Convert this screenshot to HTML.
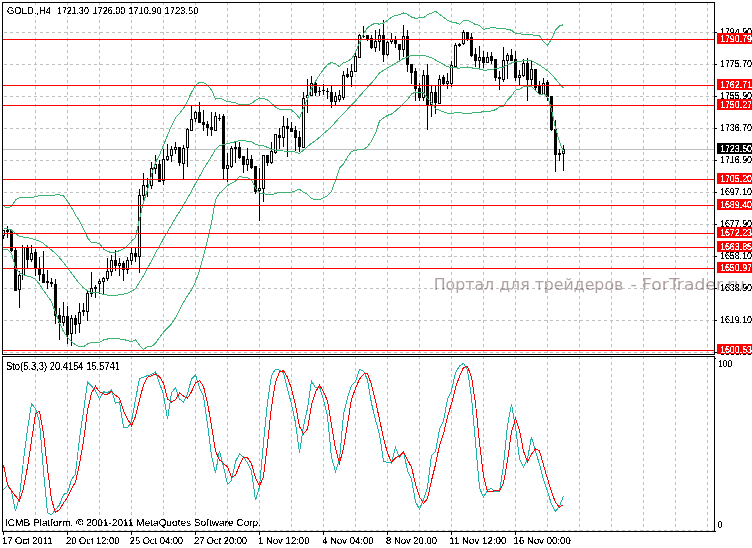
<!DOCTYPE html>
<html><head><meta charset="utf-8"><title>GOLD.,H4</title>
<style>html,body{margin:0;padding:0;background:#fff;width:752px;height:548px;overflow:hidden}svg{display:block}</style>
</head><body>
<svg width="752" height="548" viewBox="0 0 752 548" shape-rendering="crispEdges" text-rendering="optimizeSpeed"><defs><filter id="th" filterUnits="userSpaceOnUse" x="0" y="0" width="752" height="548"><feComponentTransfer><feFuncA type="discrete" tableValues="0 0 1 1 1"/></feComponentTransfer></filter><filter id="th2" filterUnits="userSpaceOnUse" x="0" y="0" width="752" height="548"><feComponentTransfer><feFuncA type="discrete" tableValues="0 1 1"/></feComponentTransfer></filter></defs>
<line x1="35.5" y1="2" x2="35.5" y2="354" stroke="#c0c0c0" stroke-dasharray="3 3"/>
<line x1="35.5" y1="356" x2="35.5" y2="531" stroke="#c0c0c0" stroke-dasharray="3 3"/>
<line x1="67.5" y1="2" x2="67.5" y2="354" stroke="#c0c0c0" stroke-dasharray="3 3"/>
<line x1="67.5" y1="356" x2="67.5" y2="531" stroke="#c0c0c0" stroke-dasharray="3 3"/>
<line x1="99.5" y1="2" x2="99.5" y2="354" stroke="#c0c0c0" stroke-dasharray="3 3"/>
<line x1="99.5" y1="356" x2="99.5" y2="531" stroke="#c0c0c0" stroke-dasharray="3 3"/>
<line x1="131.5" y1="2" x2="131.5" y2="354" stroke="#c0c0c0" stroke-dasharray="3 3"/>
<line x1="131.5" y1="356" x2="131.5" y2="531" stroke="#c0c0c0" stroke-dasharray="3 3"/>
<line x1="163.5" y1="2" x2="163.5" y2="354" stroke="#c0c0c0" stroke-dasharray="3 3"/>
<line x1="163.5" y1="356" x2="163.5" y2="531" stroke="#c0c0c0" stroke-dasharray="3 3"/>
<line x1="195.5" y1="2" x2="195.5" y2="354" stroke="#c0c0c0" stroke-dasharray="3 3"/>
<line x1="195.5" y1="356" x2="195.5" y2="531" stroke="#c0c0c0" stroke-dasharray="3 3"/>
<line x1="227.5" y1="2" x2="227.5" y2="354" stroke="#c0c0c0" stroke-dasharray="3 3"/>
<line x1="227.5" y1="356" x2="227.5" y2="531" stroke="#c0c0c0" stroke-dasharray="3 3"/>
<line x1="259.5" y1="2" x2="259.5" y2="354" stroke="#c0c0c0" stroke-dasharray="3 3"/>
<line x1="259.5" y1="356" x2="259.5" y2="531" stroke="#c0c0c0" stroke-dasharray="3 3"/>
<line x1="291.5" y1="2" x2="291.5" y2="354" stroke="#c0c0c0" stroke-dasharray="3 3"/>
<line x1="291.5" y1="356" x2="291.5" y2="531" stroke="#c0c0c0" stroke-dasharray="3 3"/>
<line x1="323.5" y1="2" x2="323.5" y2="354" stroke="#c0c0c0" stroke-dasharray="3 3"/>
<line x1="323.5" y1="356" x2="323.5" y2="531" stroke="#c0c0c0" stroke-dasharray="3 3"/>
<line x1="355.5" y1="2" x2="355.5" y2="354" stroke="#c0c0c0" stroke-dasharray="3 3"/>
<line x1="355.5" y1="356" x2="355.5" y2="531" stroke="#c0c0c0" stroke-dasharray="3 3"/>
<line x1="387.5" y1="2" x2="387.5" y2="354" stroke="#c0c0c0" stroke-dasharray="3 3"/>
<line x1="387.5" y1="356" x2="387.5" y2="531" stroke="#c0c0c0" stroke-dasharray="3 3"/>
<line x1="419.5" y1="2" x2="419.5" y2="354" stroke="#c0c0c0" stroke-dasharray="3 3"/>
<line x1="419.5" y1="356" x2="419.5" y2="531" stroke="#c0c0c0" stroke-dasharray="3 3"/>
<line x1="451.5" y1="2" x2="451.5" y2="354" stroke="#c0c0c0" stroke-dasharray="3 3"/>
<line x1="451.5" y1="356" x2="451.5" y2="531" stroke="#c0c0c0" stroke-dasharray="3 3"/>
<line x1="483.5" y1="2" x2="483.5" y2="354" stroke="#c0c0c0" stroke-dasharray="3 3"/>
<line x1="483.5" y1="356" x2="483.5" y2="531" stroke="#c0c0c0" stroke-dasharray="3 3"/>
<line x1="515.5" y1="2" x2="515.5" y2="354" stroke="#c0c0c0" stroke-dasharray="3 3"/>
<line x1="515.5" y1="356" x2="515.5" y2="531" stroke="#c0c0c0" stroke-dasharray="3 3"/>
<line x1="547.5" y1="2" x2="547.5" y2="354" stroke="#c0c0c0" stroke-dasharray="3 3"/>
<line x1="547.5" y1="356" x2="547.5" y2="531" stroke="#c0c0c0" stroke-dasharray="3 3"/>
<line x1="579.5" y1="2" x2="579.5" y2="354" stroke="#c0c0c0" stroke-dasharray="3 3"/>
<line x1="579.5" y1="356" x2="579.5" y2="531" stroke="#c0c0c0" stroke-dasharray="3 3"/>
<line x1="611.5" y1="2" x2="611.5" y2="354" stroke="#c0c0c0" stroke-dasharray="3 3"/>
<line x1="611.5" y1="356" x2="611.5" y2="531" stroke="#c0c0c0" stroke-dasharray="3 3"/>
<line x1="643.5" y1="2" x2="643.5" y2="354" stroke="#c0c0c0" stroke-dasharray="3 3"/>
<line x1="643.5" y1="356" x2="643.5" y2="531" stroke="#c0c0c0" stroke-dasharray="3 3"/>
<line x1="675.5" y1="2" x2="675.5" y2="354" stroke="#c0c0c0" stroke-dasharray="3 3"/>
<line x1="675.5" y1="356" x2="675.5" y2="531" stroke="#c0c0c0" stroke-dasharray="3 3"/>
<line x1="707.5" y1="2" x2="707.5" y2="354" stroke="#c0c0c0" stroke-dasharray="3 3"/>
<line x1="707.5" y1="356" x2="707.5" y2="531" stroke="#c0c0c0" stroke-dasharray="3 3"/>
<line x1="4" y1="32.5" x2="714" y2="32.5" stroke="#c0c0c0" stroke-dasharray="3 3"/>
<line x1="4" y1="64.5" x2="714" y2="64.5" stroke="#c0c0c0" stroke-dasharray="3 3"/>
<line x1="4" y1="96.5" x2="714" y2="96.5" stroke="#c0c0c0" stroke-dasharray="3 3"/>
<line x1="4" y1="128.5" x2="714" y2="128.5" stroke="#c0c0c0" stroke-dasharray="3 3"/>
<line x1="4" y1="160.5" x2="714" y2="160.5" stroke="#c0c0c0" stroke-dasharray="3 3"/>
<line x1="4" y1="192.5" x2="714" y2="192.5" stroke="#c0c0c0" stroke-dasharray="3 3"/>
<line x1="4" y1="224.5" x2="714" y2="224.5" stroke="#c0c0c0" stroke-dasharray="3 3"/>
<line x1="4" y1="256.5" x2="714" y2="256.5" stroke="#c0c0c0" stroke-dasharray="3 3"/>
<line x1="4" y1="288.5" x2="714" y2="288.5" stroke="#c0c0c0" stroke-dasharray="3 3"/>
<line x1="4" y1="320.5" x2="714" y2="320.5" stroke="#c0c0c0" stroke-dasharray="3 3"/>
<line x1="4" y1="352.5" x2="714" y2="352.5" stroke="#c0c0c0" stroke-dasharray="3 3"/>
<line x1="4" y1="530.5" x2="714" y2="530.5" stroke="#c0c0c0" stroke-dasharray="3 3"/>
<rect x="3" y="149" width="711" height="1" fill="#c0c0c0"/>
<rect x="3" y="230" width="1" height="9" fill="#000"/>
<rect x="2.5" y="230.5" width="2" height="5" fill="#fff" stroke="#000"/>
<rect x="7" y="226" width="1" height="12" fill="#000"/>
<rect x="6" y="230" width="3" height="2" fill="#000"/>
<rect x="11" y="229" width="1" height="23" fill="#000"/>
<rect x="10" y="230" width="3" height="21" fill="#000"/>
<rect x="15" y="248" width="1" height="43" fill="#000"/>
<rect x="14" y="250" width="3" height="41" fill="#000"/>
<rect x="19" y="271" width="1" height="37" fill="#000"/>
<rect x="18.5" y="275.5" width="2" height="14" fill="#fff" stroke="#000"/>
<rect x="23" y="247" width="1" height="28" fill="#000"/>
<rect x="22.5" y="247.5" width="2" height="27" fill="#fff" stroke="#000"/>
<rect x="27" y="245" width="1" height="23" fill="#000"/>
<rect x="26" y="248" width="3" height="12" fill="#000"/>
<rect x="31" y="245" width="1" height="17" fill="#000"/>
<rect x="30.5" y="253.5" width="2" height="6" fill="#fff" stroke="#000"/>
<rect x="35" y="249" width="1" height="27" fill="#000"/>
<rect x="34" y="252" width="3" height="16" fill="#000"/>
<rect x="39" y="257" width="1" height="24" fill="#000"/>
<rect x="38" y="268" width="3" height="7" fill="#000"/>
<rect x="43" y="251" width="1" height="32" fill="#000"/>
<rect x="42" y="274" width="3" height="9" fill="#000"/>
<rect x="47" y="270" width="1" height="19" fill="#000"/>
<rect x="46" y="281" width="3" height="2" fill="#000"/>
<rect x="51" y="278" width="1" height="9" fill="#000"/>
<rect x="50" y="282" width="3" height="2" fill="#000"/>
<rect x="55" y="279" width="1" height="45" fill="#000"/>
<rect x="54" y="284" width="3" height="32" fill="#000"/>
<rect x="59" y="308" width="1" height="32" fill="#000"/>
<rect x="58" y="315" width="3" height="8" fill="#000"/>
<rect x="63" y="302" width="1" height="24" fill="#000"/>
<rect x="62.5" y="316.5" width="2" height="6" fill="#fff" stroke="#000"/>
<rect x="67" y="306" width="1" height="38" fill="#000"/>
<rect x="66" y="316" width="3" height="19" fill="#000"/>
<rect x="71" y="315" width="1" height="31" fill="#000"/>
<rect x="70.5" y="318.5" width="2" height="15" fill="#fff" stroke="#000"/>
<rect x="75" y="315" width="1" height="19" fill="#000"/>
<rect x="74" y="318" width="3" height="7" fill="#000"/>
<rect x="79" y="303" width="1" height="30" fill="#000"/>
<rect x="78.5" y="312.5" width="2" height="11" fill="#fff" stroke="#000"/>
<rect x="83" y="303" width="1" height="13" fill="#000"/>
<rect x="82" y="310" width="3" height="2" fill="#000"/>
<rect x="87" y="291" width="1" height="30" fill="#000"/>
<rect x="86.5" y="293.5" width="2" height="18" fill="#fff" stroke="#000"/>
<rect x="91" y="272" width="1" height="25" fill="#000"/>
<rect x="90.5" y="288.5" width="2" height="5" fill="#fff" stroke="#000"/>
<rect x="95" y="285" width="1" height="13" fill="#000"/>
<rect x="94" y="287" width="3" height="2" fill="#000"/>
<rect x="99" y="279" width="1" height="15" fill="#000"/>
<rect x="98.5" y="281.5" width="2" height="2" fill="#fff" stroke="#000"/>
<rect x="103" y="277" width="1" height="17" fill="#000"/>
<rect x="102.5" y="278.5" width="2" height="3" fill="#fff" stroke="#000"/>
<rect x="107" y="258" width="1" height="23" fill="#000"/>
<rect x="106.5" y="271.5" width="2" height="7" fill="#fff" stroke="#000"/>
<rect x="111" y="255" width="1" height="21" fill="#000"/>
<rect x="110.5" y="260.5" width="2" height="11" fill="#fff" stroke="#000"/>
<rect x="115" y="250" width="1" height="21" fill="#000"/>
<rect x="114" y="260" width="3" height="6" fill="#000"/>
<rect x="119" y="258" width="1" height="18" fill="#000"/>
<rect x="118.5" y="263.5" width="2" height="2" fill="#fff" stroke="#000"/>
<rect x="123" y="261" width="1" height="20" fill="#000"/>
<rect x="122" y="263" width="3" height="7" fill="#000"/>
<rect x="127" y="257" width="1" height="17" fill="#000"/>
<rect x="126.5" y="260.5" width="2" height="9" fill="#fff" stroke="#000"/>
<rect x="131" y="248" width="1" height="17" fill="#000"/>
<rect x="130.5" y="253.5" width="2" height="7" fill="#fff" stroke="#000"/>
<rect x="135" y="248" width="1" height="14" fill="#000"/>
<rect x="134" y="253" width="3" height="4" fill="#000"/>
<rect x="139" y="189" width="1" height="84" fill="#000"/>
<rect x="138.5" y="195.5" width="2" height="61" fill="#fff" stroke="#000"/>
<rect x="143" y="173" width="1" height="27" fill="#000"/>
<rect x="142.5" y="185.5" width="2" height="10" fill="#fff" stroke="#000"/>
<rect x="147" y="178" width="1" height="19" fill="#000"/>
<rect x="146" y="185" width="3" height="2" fill="#000"/>
<rect x="151" y="162" width="1" height="27" fill="#000"/>
<rect x="150.5" y="168.5" width="2" height="17" fill="#fff" stroke="#000"/>
<rect x="155" y="155" width="1" height="19" fill="#000"/>
<rect x="154.5" y="164.5" width="2" height="4" fill="#fff" stroke="#000"/>
<rect x="159" y="160" width="1" height="22" fill="#000"/>
<rect x="158" y="164" width="3" height="18" fill="#000"/>
<rect x="163" y="149" width="1" height="36" fill="#000"/>
<rect x="162.5" y="159.5" width="2" height="21" fill="#fff" stroke="#000"/>
<rect x="167" y="144" width="1" height="17" fill="#000"/>
<rect x="166.5" y="156.5" width="2" height="3" fill="#fff" stroke="#000"/>
<rect x="171" y="146" width="1" height="16" fill="#000"/>
<rect x="170.5" y="149.5" width="2" height="6" fill="#fff" stroke="#000"/>
<rect x="175" y="142" width="1" height="12" fill="#000"/>
<rect x="174.5" y="147.5" width="2" height="2" fill="#fff" stroke="#000"/>
<rect x="179" y="147" width="1" height="19" fill="#000"/>
<rect x="178" y="147" width="3" height="16" fill="#000"/>
<rect x="183" y="145" width="1" height="34" fill="#000"/>
<rect x="182.5" y="148.5" width="2" height="15" fill="#fff" stroke="#000"/>
<rect x="187" y="128" width="1" height="39" fill="#000"/>
<rect x="186.5" y="129.5" width="2" height="18" fill="#fff" stroke="#000"/>
<rect x="191" y="106" width="1" height="25" fill="#000"/>
<rect x="190.5" y="119.5" width="2" height="11" fill="#fff" stroke="#000"/>
<rect x="195" y="111" width="1" height="11" fill="#000"/>
<rect x="194.5" y="112.5" width="2" height="6" fill="#fff" stroke="#000"/>
<rect x="199" y="102" width="1" height="21" fill="#000"/>
<rect x="198" y="112" width="3" height="11" fill="#000"/>
<rect x="203" y="110" width="1" height="21" fill="#000"/>
<rect x="202" y="122" width="3" height="3" fill="#000"/>
<rect x="207" y="121" width="1" height="15" fill="#000"/>
<rect x="206" y="124" width="3" height="4" fill="#000"/>
<rect x="211" y="112" width="1" height="24" fill="#000"/>
<rect x="210" y="127" width="3" height="3" fill="#000"/>
<rect x="215" y="112" width="1" height="19" fill="#000"/>
<rect x="214.5" y="116.5" width="2" height="14" fill="#fff" stroke="#000"/>
<rect x="219" y="114" width="1" height="7" fill="#000"/>
<rect x="218" y="118" width="3" height="1" fill="#000"/>
<rect x="223" y="114" width="1" height="65" fill="#000"/>
<rect x="222" y="116" width="3" height="53" fill="#000"/>
<rect x="227" y="153" width="1" height="29" fill="#000"/>
<rect x="226.5" y="165.5" width="2" height="3" fill="#fff" stroke="#000"/>
<rect x="231" y="146" width="1" height="22" fill="#000"/>
<rect x="230.5" y="148.5" width="2" height="18" fill="#fff" stroke="#000"/>
<rect x="235" y="141" width="1" height="22" fill="#000"/>
<rect x="234" y="147" width="3" height="2" fill="#000"/>
<rect x="239" y="142" width="1" height="17" fill="#000"/>
<rect x="238" y="147" width="3" height="11" fill="#000"/>
<rect x="243" y="156" width="1" height="17" fill="#000"/>
<rect x="242" y="156" width="3" height="9" fill="#000"/>
<rect x="247" y="148" width="1" height="23" fill="#000"/>
<rect x="246.5" y="159.5" width="2" height="5" fill="#fff" stroke="#000"/>
<rect x="251" y="155" width="1" height="14" fill="#000"/>
<rect x="250" y="159" width="3" height="9" fill="#000"/>
<rect x="255" y="166" width="1" height="28" fill="#000"/>
<rect x="254" y="166" width="3" height="26" fill="#000"/>
<rect x="259" y="168" width="1" height="53" fill="#000"/>
<rect x="258.5" y="188.5" width="2" height="2" fill="#fff" stroke="#000"/>
<rect x="263" y="155" width="1" height="47" fill="#000"/>
<rect x="262.5" y="155.5" width="2" height="33" fill="#fff" stroke="#000"/>
<rect x="267" y="155" width="1" height="11" fill="#000"/>
<rect x="266" y="155" width="3" height="8" fill="#000"/>
<rect x="271" y="142" width="1" height="22" fill="#000"/>
<rect x="270.5" y="151.5" width="2" height="11" fill="#fff" stroke="#000"/>
<rect x="275" y="134" width="1" height="20" fill="#000"/>
<rect x="274.5" y="134.5" width="2" height="18" fill="#fff" stroke="#000"/>
<rect x="279" y="128" width="1" height="21" fill="#000"/>
<rect x="278" y="135" width="3" height="3" fill="#000"/>
<rect x="283" y="116" width="1" height="31" fill="#000"/>
<rect x="282.5" y="126.5" width="2" height="11" fill="#fff" stroke="#000"/>
<rect x="287" y="118" width="1" height="39" fill="#000"/>
<rect x="286" y="126" width="3" height="3" fill="#000"/>
<rect x="291" y="122" width="1" height="10" fill="#000"/>
<rect x="290" y="128" width="3" height="4" fill="#000"/>
<rect x="295" y="126" width="1" height="25" fill="#000"/>
<rect x="294" y="130" width="3" height="8" fill="#000"/>
<rect x="299" y="131" width="1" height="21" fill="#000"/>
<rect x="298" y="137" width="3" height="10" fill="#000"/>
<rect x="303" y="92" width="1" height="56" fill="#000"/>
<rect x="302.5" y="98.5" width="2" height="49" fill="#fff" stroke="#000"/>
<rect x="307" y="79" width="1" height="34" fill="#000"/>
<rect x="306.5" y="95.5" width="2" height="2" fill="#fff" stroke="#000"/>
<rect x="311" y="76" width="1" height="20" fill="#000"/>
<rect x="310.5" y="83.5" width="2" height="12" fill="#fff" stroke="#000"/>
<rect x="315" y="82" width="1" height="14" fill="#000"/>
<rect x="314" y="83" width="3" height="10" fill="#000"/>
<rect x="319" y="87" width="1" height="9" fill="#000"/>
<rect x="318" y="91" width="3" height="1" fill="#000"/>
<rect x="323" y="84" width="1" height="11" fill="#000"/>
<rect x="322" y="90" width="3" height="1" fill="#000"/>
<rect x="327" y="88" width="1" height="11" fill="#000"/>
<rect x="326" y="91" width="3" height="1" fill="#000"/>
<rect x="331" y="86" width="1" height="22" fill="#000"/>
<rect x="330" y="92" width="3" height="10" fill="#000"/>
<rect x="335" y="92" width="1" height="13" fill="#000"/>
<rect x="334.5" y="96.5" width="2" height="5" fill="#fff" stroke="#000"/>
<rect x="339" y="90" width="1" height="12" fill="#000"/>
<rect x="338.5" y="95.5" width="2" height="4" fill="#fff" stroke="#000"/>
<rect x="343" y="71" width="1" height="29" fill="#000"/>
<rect x="342.5" y="75.5" width="2" height="22" fill="#fff" stroke="#000"/>
<rect x="347" y="68" width="1" height="10" fill="#000"/>
<rect x="346" y="74" width="3" height="3" fill="#000"/>
<rect x="351" y="64" width="1" height="23" fill="#000"/>
<rect x="350.5" y="71.5" width="2" height="5" fill="#fff" stroke="#000"/>
<rect x="355" y="53" width="1" height="19" fill="#000"/>
<rect x="354.5" y="56.5" width="2" height="15" fill="#fff" stroke="#000"/>
<rect x="359" y="34" width="1" height="24" fill="#000"/>
<rect x="358.5" y="35.5" width="2" height="22" fill="#fff" stroke="#000"/>
<rect x="363" y="26" width="1" height="12" fill="#000"/>
<rect x="362" y="36" width="3" height="1" fill="#000"/>
<rect x="367" y="35" width="1" height="6" fill="#000"/>
<rect x="366" y="35" width="3" height="5" fill="#000"/>
<rect x="371" y="35" width="1" height="14" fill="#000"/>
<rect x="370" y="38" width="3" height="10" fill="#000"/>
<rect x="375" y="30" width="1" height="22" fill="#000"/>
<rect x="374.5" y="41.5" width="2" height="6" fill="#fff" stroke="#000"/>
<rect x="379" y="29" width="1" height="22" fill="#000"/>
<rect x="378.5" y="35.5" width="2" height="6" fill="#fff" stroke="#000"/>
<rect x="383" y="20" width="1" height="42" fill="#000"/>
<rect x="382" y="35" width="3" height="20" fill="#000"/>
<rect x="387" y="41" width="1" height="15" fill="#000"/>
<rect x="386.5" y="42.5" width="2" height="12" fill="#fff" stroke="#000"/>
<rect x="391" y="33" width="1" height="11" fill="#000"/>
<rect x="390.5" y="39.5" width="2" height="2" fill="#fff" stroke="#000"/>
<rect x="395" y="36" width="1" height="12" fill="#000"/>
<rect x="394" y="40" width="3" height="4" fill="#000"/>
<rect x="399" y="44" width="1" height="16" fill="#000"/>
<rect x="398" y="44" width="3" height="6" fill="#000"/>
<rect x="403" y="25" width="1" height="32" fill="#000"/>
<rect x="402.5" y="36.5" width="2" height="13" fill="#fff" stroke="#000"/>
<rect x="407" y="30" width="1" height="42" fill="#000"/>
<rect x="406" y="36" width="3" height="29" fill="#000"/>
<rect x="411" y="64" width="1" height="20" fill="#000"/>
<rect x="410" y="64" width="3" height="9" fill="#000"/>
<rect x="415" y="68" width="1" height="33" fill="#000"/>
<rect x="414" y="71" width="3" height="18" fill="#000"/>
<rect x="419" y="83" width="1" height="18" fill="#000"/>
<rect x="418" y="88" width="3" height="10" fill="#000"/>
<rect x="423" y="70" width="1" height="31" fill="#000"/>
<rect x="422.5" y="75.5" width="2" height="22" fill="#fff" stroke="#000"/>
<rect x="427" y="64" width="1" height="66" fill="#000"/>
<rect x="426" y="75" width="3" height="30" fill="#000"/>
<rect x="431" y="86" width="1" height="31" fill="#000"/>
<rect x="430.5" y="92.5" width="2" height="12" fill="#fff" stroke="#000"/>
<rect x="435" y="86" width="1" height="28" fill="#000"/>
<rect x="434" y="92" width="3" height="11" fill="#000"/>
<rect x="439" y="75" width="1" height="29" fill="#000"/>
<rect x="438.5" y="79.5" width="2" height="24" fill="#fff" stroke="#000"/>
<rect x="443" y="75" width="1" height="10" fill="#000"/>
<rect x="442" y="77" width="3" height="7" fill="#000"/>
<rect x="447" y="73" width="1" height="16" fill="#000"/>
<rect x="446.5" y="81.5" width="2" height="2" fill="#fff" stroke="#000"/>
<rect x="451" y="61" width="1" height="26" fill="#000"/>
<rect x="450.5" y="65.5" width="2" height="18" fill="#fff" stroke="#000"/>
<rect x="455" y="43" width="1" height="24" fill="#000"/>
<rect x="454.5" y="45.5" width="2" height="21" fill="#fff" stroke="#000"/>
<rect x="459" y="43" width="1" height="4" fill="#000"/>
<rect x="458" y="44" width="3" height="2" fill="#000"/>
<rect x="463" y="30" width="1" height="15" fill="#000"/>
<rect x="462.5" y="32.5" width="2" height="11" fill="#fff" stroke="#000"/>
<rect x="467" y="32" width="1" height="9" fill="#000"/>
<rect x="466" y="32" width="3" height="7" fill="#000"/>
<rect x="471" y="33" width="1" height="24" fill="#000"/>
<rect x="470" y="37" width="3" height="19" fill="#000"/>
<rect x="475" y="48" width="1" height="19" fill="#000"/>
<rect x="474" y="54" width="3" height="7" fill="#000"/>
<rect x="479" y="46" width="1" height="22" fill="#000"/>
<rect x="478.5" y="57.5" width="2" height="3" fill="#fff" stroke="#000"/>
<rect x="483" y="51" width="1" height="17" fill="#000"/>
<rect x="482" y="57" width="3" height="6" fill="#000"/>
<rect x="487" y="52" width="1" height="11" fill="#000"/>
<rect x="486.5" y="57.5" width="2" height="5" fill="#fff" stroke="#000"/>
<rect x="491" y="52" width="1" height="12" fill="#000"/>
<rect x="490" y="56" width="3" height="5" fill="#000"/>
<rect x="495" y="59" width="1" height="22" fill="#000"/>
<rect x="494" y="59" width="3" height="19" fill="#000"/>
<rect x="499" y="71" width="1" height="19" fill="#000"/>
<rect x="498" y="77" width="3" height="2" fill="#000"/>
<rect x="503" y="47" width="1" height="35" fill="#000"/>
<rect x="502.5" y="60.5" width="2" height="19" fill="#fff" stroke="#000"/>
<rect x="507" y="53" width="1" height="26" fill="#000"/>
<rect x="506.5" y="55.5" width="2" height="5" fill="#fff" stroke="#000"/>
<rect x="511" y="49" width="1" height="12" fill="#000"/>
<rect x="510" y="55" width="3" height="6" fill="#000"/>
<rect x="515" y="51" width="1" height="30" fill="#000"/>
<rect x="514" y="59" width="3" height="19" fill="#000"/>
<rect x="519" y="70" width="1" height="15" fill="#000"/>
<rect x="518.5" y="75.5" width="2" height="2" fill="#fff" stroke="#000"/>
<rect x="523" y="59" width="1" height="18" fill="#000"/>
<rect x="522.5" y="63.5" width="2" height="12" fill="#fff" stroke="#000"/>
<rect x="527" y="58" width="1" height="43" fill="#000"/>
<rect x="526" y="63" width="3" height="17" fill="#000"/>
<rect x="531" y="60" width="1" height="26" fill="#000"/>
<rect x="530.5" y="69.5" width="2" height="10" fill="#fff" stroke="#000"/>
<rect x="535" y="69" width="1" height="22" fill="#000"/>
<rect x="534" y="69" width="3" height="19" fill="#000"/>
<rect x="539" y="81" width="1" height="14" fill="#000"/>
<rect x="538" y="86" width="3" height="8" fill="#000"/>
<rect x="543" y="78" width="1" height="16" fill="#000"/>
<rect x="542.5" y="83.5" width="2" height="10" fill="#fff" stroke="#000"/>
<rect x="547" y="80" width="1" height="21" fill="#000"/>
<rect x="546" y="82" width="3" height="15" fill="#000"/>
<rect x="551" y="96" width="1" height="35" fill="#000"/>
<rect x="550" y="96" width="3" height="34" fill="#000"/>
<rect x="555" y="120" width="1" height="52" fill="#000"/>
<rect x="554" y="129" width="3" height="26" fill="#000"/>
<rect x="559" y="149" width="1" height="12" fill="#000"/>
<rect x="558" y="153" width="3" height="2" fill="#000"/>
<rect x="563" y="145" width="1" height="26" fill="#000"/>
<rect x="562.5" y="149.5" width="2" height="4" fill="#fff" stroke="#000"/>
<rect x="22" y="245" width="1" height="35" fill="#000"/>
<polyline points="3.5,206.7 7.5,207.5 11.5,206.8 15.5,200.0 19.5,197.8 23.5,197.7 27.5,197.7 31.5,197.7 35.5,196.5 39.5,195.8 43.5,195.8 47.5,195.8 51.5,195.8 55.5,194.8 59.5,194.8 63.5,196.0 67.5,201.0 71.5,207.5 75.5,215.0 79.5,220.8 83.5,228.7 87.5,237.7 91.5,242.9 95.5,242.8 99.5,243.5 103.5,249.0 107.5,251.2 111.5,252.8 115.5,252.4 119.5,250.6 123.5,248.8 127.5,245.6 131.5,241.2 135.5,237.3 139.5,219.2 143.5,202.0 147.5,190.1 151.5,174.9 155.5,162.4 159.5,155.1 163.5,145.2 167.5,135.4 171.5,125.8 175.5,117.8 179.5,113.6 183.5,108.4 187.5,100.9 191.5,92.5 195.5,85.4 199.5,82.1 203.5,82.6 207.5,85.1 211.5,89.9 215.5,99.0 219.5,98.1 223.5,99.6 227.5,101.6 231.5,102.1 235.5,102.5 239.5,104.9 243.5,104.5 247.5,104.4 251.5,103.7 255.5,100.2 259.5,98.0 263.5,98.2 267.5,99.9 271.5,103.3 275.5,107.0 279.5,109.2 283.5,109.5 287.5,109.7 291.5,110.0 295.5,113.6 299.5,118.1 303.5,108.0 307.5,98.9 311.5,88.3 315.5,81.3 319.5,74.9 323.5,69.3 327.5,64.6 331.5,62.5 335.5,63.8 339.5,66.8 343.5,62.8 347.5,61.4 351.5,58.8 355.5,52.4 359.5,42.5 363.5,33.9 367.5,27.8 371.5,24.9 375.5,23.1 379.5,24.3 383.5,23.0 387.5,20.3 391.5,17.1 395.5,15.4 399.5,14.8 403.5,13.0 407.5,14.2 411.5,17.1 415.5,18.3 419.5,17.9 423.5,17.9 427.5,14.5 431.5,13.1 435.5,11.3 439.5,14.2 443.5,17.2 447.5,20.2 451.5,21.9 455.5,22.6 459.5,24.3 463.5,20.8 467.5,20.2 471.5,22.4 475.5,24.5 479.5,25.4 483.5,29.2 487.5,28.5 491.5,27.7 495.5,27.9 499.5,28.9 503.5,28.1 507.5,29.4 511.5,30.2 515.5,33.5 519.5,33.7 523.5,34.6 527.5,34.8 531.5,34.7 535.5,35.4 539.5,35.9 543.5,41.6 547.5,45.2 551.5,39.2 555.5,30.1 559.5,26.0 563.5,24.7" fill="none" stroke="#3cb371" stroke-width="1"/>
<polyline points="3.5,228.8 7.5,228.8 11.5,230.0 15.5,233.5 19.5,236.3 23.5,237.1 27.5,237.7 31.5,238.5 35.5,239.7 39.5,241.1 43.5,243.5 47.5,246.8 51.5,250.1 55.5,253.5 59.5,257.8 63.5,262.5 67.5,267.7 71.5,273.0 75.5,278.5 79.5,283.7 83.5,287.8 87.5,290.9 91.5,292.8 95.5,292.6 99.5,292.9 103.5,294.5 107.5,295.1 111.5,295.4 115.5,295.4 119.5,294.8 123.5,294.1 127.5,293.1 131.5,291.6 135.5,288.6 139.5,282.2 143.5,275.7 147.5,268.3 151.5,260.8 155.5,252.8 159.5,246.2 163.5,238.7 167.5,231.8 171.5,224.8 175.5,217.8 179.5,211.8 183.5,205.3 187.5,198.2 191.5,191.2 195.5,183.6 199.5,176.5 203.5,169.2 207.5,162.6 211.5,156.4 215.5,149.4 219.5,145.6 223.5,144.7 227.5,143.7 231.5,142.7 235.5,141.8 239.5,140.7 243.5,140.9 247.5,141.1 251.5,141.9 255.5,144.2 259.5,145.4 263.5,145.8 267.5,147.4 271.5,149.1 275.5,150.2 279.5,150.9 283.5,151.0 287.5,151.1 291.5,151.2 295.5,152.2 299.5,153.6 303.5,150.1 307.5,146.6 311.5,143.3 315.5,140.6 319.5,137.2 323.5,133.6 327.5,130.2 331.5,126.8 335.5,122.1 339.5,117.5 343.5,113.5 347.5,109.2 351.5,105.2 355.5,101.2 359.5,96.2 363.5,91.7 367.5,87.2 371.5,83.0 375.5,78.2 379.5,72.7 383.5,70.5 387.5,67.8 391.5,65.6 395.5,63.1 399.5,61.0 403.5,58.4 407.5,57.0 411.5,55.5 415.5,55.1 419.5,55.2 423.5,55.2 427.5,56.6 431.5,57.7 435.5,60.0 439.5,62.2 443.5,64.5 447.5,66.7 451.5,67.5 455.5,67.8 459.5,68.2 463.5,67.2 467.5,67.0 471.5,67.8 475.5,68.6 479.5,69.0 483.5,70.3 487.5,70.0 491.5,69.3 495.5,68.8 499.5,67.8 503.5,67.1 507.5,64.7 511.5,63.0 515.5,61.8 519.5,61.6 523.5,60.6 527.5,60.5 531.5,60.7 535.5,62.8 539.5,65.2 543.5,67.8 547.5,70.7 551.5,74.3 555.5,79.0 559.5,83.9 563.5,88.2" fill="none" stroke="#3cb371" stroke-width="1"/>
<polyline points="3.5,249.7 7.5,249.8 11.5,253.5 15.5,267.5 19.5,273.0 23.5,274.8 27.5,276.1 31.5,277.2 35.5,279.5 39.5,284.0 43.5,290.5 47.5,296.0 51.5,301.5 55.5,312.5 59.5,323.0 63.5,331.5 67.5,337.5 71.5,341.5 75.5,344.8 79.5,346.6 83.5,346.8 87.5,344.0 91.5,342.6 95.5,342.5 99.5,342.4 103.5,340.0 107.5,339.0 111.5,338.1 115.5,338.3 119.5,339.0 123.5,339.5 127.5,340.5 131.5,341.9 135.5,339.9 139.5,345.3 143.5,349.4 147.5,346.5 151.5,346.7 155.5,343.2 159.5,337.4 163.5,332.1 167.5,328.2 171.5,323.9 175.5,317.8 179.5,310.1 183.5,302.3 187.5,295.6 191.5,289.9 195.5,281.7 199.5,270.9 203.5,255.9 207.5,240.1 211.5,222.9 215.5,199.8 219.5,193.0 223.5,189.8 227.5,185.7 231.5,183.2 235.5,181.2 239.5,176.4 243.5,177.3 247.5,177.7 251.5,180.2 255.5,188.1 259.5,192.9 263.5,193.4 267.5,195.0 271.5,194.8 275.5,193.3 279.5,192.6 283.5,192.5 287.5,192.4 291.5,192.3 295.5,190.8 299.5,189.1 303.5,192.2 307.5,194.3 311.5,198.4 315.5,199.8 319.5,199.6 323.5,197.8 327.5,195.7 331.5,191.2 335.5,180.4 339.5,168.1 343.5,164.1 347.5,156.9 351.5,151.5 355.5,150.1 359.5,149.8 363.5,149.4 367.5,146.6 371.5,141.1 375.5,133.3 379.5,121.0 383.5,117.9 387.5,115.3 391.5,114.1 395.5,110.9 399.5,107.3 403.5,103.7 407.5,99.8 411.5,94.0 415.5,92.0 419.5,92.6 423.5,92.6 427.5,98.8 431.5,102.3 435.5,108.7 439.5,110.2 443.5,111.9 447.5,113.1 451.5,113.2 455.5,112.9 459.5,112.2 463.5,113.5 467.5,113.7 471.5,113.1 475.5,112.7 479.5,112.6 483.5,111.4 487.5,111.4 491.5,111.0 495.5,109.7 499.5,106.8 503.5,106.1 507.5,99.9 511.5,95.9 515.5,90.1 519.5,89.5 523.5,86.6 527.5,86.2 531.5,86.7 535.5,90.2 539.5,94.5 543.5,93.9 547.5,96.1 551.5,109.5 555.5,128.0 559.5,141.8 563.5,151.8" fill="none" stroke="#3cb371" stroke-width="1"/>
<rect x="3" y="39" width="711" height="1" fill="#ff0000"/>
<rect x="3" y="85" width="711" height="1" fill="#ff0000"/>
<rect x="3" y="105" width="711" height="1" fill="#ff0000"/>
<rect x="3" y="179" width="711" height="1" fill="#ff0000"/>
<rect x="3" y="205" width="711" height="1" fill="#ff0000"/>
<rect x="3" y="233" width="711" height="1" fill="#ff0000"/>
<rect x="3" y="247" width="711" height="1" fill="#ff0000"/>
<rect x="3" y="268" width="711" height="1" fill="#ff0000"/>
<rect x="3" y="350" width="711" height="1" fill="#ff0000"/>
<polyline points="3.5,489.7 7.5,485.3 11.5,491.0 15.5,511.0 19.5,497.0 23.5,460.0 27.5,429.5 31.5,403.5 35.5,408.7 39.5,421.6 43.5,471.3 47.5,512.8 51.5,514.9 55.5,509.5 59.5,504.8 63.5,494.5 67.5,492.6 71.5,479.7 75.5,474.0 79.5,438.3 83.5,411.4 87.5,382.0 91.5,385.8 95.5,390.8 99.5,399.2 103.5,391.6 107.5,393.1 111.5,389.4 115.5,403.3 119.5,401.9 123.5,427.5 127.5,428.0 131.5,421.3 135.5,399.6 139.5,378.3 143.5,377.3 147.5,375.6 151.5,374.5 155.5,371.9 159.5,383.3 163.5,394.6 167.5,418.9 171.5,392.9 175.5,387.4 179.5,399.1 183.5,401.9 187.5,393.7 191.5,379.0 195.5,374.9 199.5,387.8 203.5,396.4 207.5,424.4 211.5,456.0 215.5,473.0 219.5,450.7 223.5,466.5 227.5,484.2 231.5,480.7 235.5,461.4 239.5,453.9 243.5,457.0 247.5,462.9 251.5,471.3 255.5,500.2 259.5,486.9 263.5,442.7 267.5,402.0 271.5,375.6 275.5,369.2 279.5,370.2 283.5,372.9 287.5,388.9 291.5,404.3 295.5,422.8 299.5,452.7 303.5,425.9 307.5,408.4 311.5,380.9 315.5,387.6 319.5,386.9 323.5,400.0 327.5,416.3 331.5,457.6 335.5,471.3 339.5,459.9 343.5,414.3 347.5,397.8 351.5,385.7 355.5,381.7 359.5,369.5 363.5,371.1 367.5,379.6 371.5,403.4 375.5,419.7 379.5,434.5 383.5,461.0 387.5,462.7 391.5,463.1 395.5,447.5 399.5,457.4 403.5,451.5 407.5,470.6 411.5,479.3 415.5,501.8 419.5,509.2 423.5,499.4 427.5,487.1 431.5,455.3 435.5,451.6 439.5,429.3 443.5,421.2 447.5,399.2 451.5,390.7 455.5,372.7 459.5,365.9 463.5,363.4 467.5,370.1 471.5,397.6 475.5,442.6 479.5,487.9 483.5,497.2 487.5,490.0 491.5,488.5 495.5,491.9 499.5,491.7 503.5,465.4 507.5,425.5 511.5,404.0 515.5,427.4 519.5,459.1 523.5,466.9 527.5,458.9 531.5,436.9 535.5,451.4 539.5,464.3 543.5,479.9 547.5,491.7 551.5,504.2 555.5,511.3 559.5,506.3 563.5,495.8" fill="none" stroke="#20b2aa" stroke-width="1"/>
<polyline points="3.5,465.0 7.5,484.0 11.5,491.0 15.5,496.0 19.5,501.0 23.5,488.0 27.5,467.0 31.5,441.0 35.5,413.9 39.5,411.2 43.5,433.8 47.5,468.6 51.5,499.7 55.5,512.4 59.5,509.7 63.5,502.9 67.5,497.3 71.5,488.9 75.5,482.1 79.5,464.0 83.5,441.2 87.5,410.6 91.5,393.1 95.5,386.2 99.5,391.9 103.5,393.9 107.5,394.6 111.5,391.3 115.5,395.3 119.5,398.2 123.5,410.9 127.5,419.1 131.5,425.6 135.5,416.3 139.5,399.7 143.5,385.1 147.5,377.1 151.5,375.8 155.5,374.0 159.5,376.6 163.5,383.3 167.5,398.9 171.5,402.1 175.5,399.7 179.5,393.1 183.5,396.1 187.5,398.2 191.5,391.6 195.5,382.6 199.5,380.6 203.5,386.4 207.5,402.9 211.5,425.6 215.5,451.1 219.5,459.9 223.5,463.4 227.5,467.1 231.5,477.1 235.5,475.4 239.5,465.3 243.5,457.4 247.5,457.9 251.5,463.7 255.5,478.1 259.5,486.1 263.5,476.6 267.5,443.9 271.5,406.7 275.5,382.2 279.5,371.7 283.5,370.8 287.5,377.3 291.5,388.7 295.5,405.3 299.5,426.6 303.5,433.8 307.5,429.0 311.5,405.1 315.5,392.3 319.5,385.1 323.5,391.5 327.5,401.1 331.5,424.7 335.5,448.4 339.5,463.0 343.5,448.5 347.5,424.0 351.5,399.3 355.5,388.4 359.5,379.0 363.5,374.1 367.5,373.4 371.5,384.7 375.5,400.9 379.5,419.2 383.5,438.4 387.5,452.8 391.5,462.3 395.5,457.8 399.5,456.0 403.5,452.2 407.5,459.8 411.5,467.1 415.5,483.9 419.5,496.8 423.5,503.5 427.5,498.6 431.5,480.6 435.5,464.7 439.5,445.4 443.5,434.0 447.5,416.6 451.5,403.7 455.5,387.6 459.5,376.4 463.5,367.3 467.5,366.5 471.5,377.0 475.5,403.5 479.5,442.7 483.5,475.9 487.5,491.7 491.5,491.9 495.5,490.1 499.5,490.7 503.5,483.0 507.5,460.8 511.5,431.6 515.5,418.9 519.5,430.2 523.5,451.1 527.5,461.6 531.5,454.2 535.5,449.0 539.5,450.8 543.5,465.2 547.5,478.6 551.5,491.9 555.5,502.4 559.5,507.3 563.5,504.5" fill="none" stroke="#ff0000" stroke-width="1"/>
<rect x="2" y="2" width="713" height="1" fill="#000"/>
<rect x="2" y="354" width="713" height="1" fill="#000"/>
<rect x="2" y="2" width="1" height="353" fill="#000"/>
<rect x="714" y="2" width="1" height="353" fill="#000"/>
<rect x="2" y="356" width="713" height="1" fill="#000"/>
<rect x="2" y="531" width="713" height="1" fill="#000"/>
<rect x="2" y="356" width="1" height="176" fill="#000"/>
<rect x="714" y="356" width="1" height="176" fill="#000"/>
<rect x="715" y="32" width="2" height="1" fill="#000"/>
<rect x="715" y="64" width="2" height="1" fill="#000"/>
<rect x="715" y="96" width="2" height="1" fill="#000"/>
<rect x="715" y="128" width="2" height="1" fill="#000"/>
<rect x="715" y="160" width="2" height="1" fill="#000"/>
<rect x="715" y="192" width="2" height="1" fill="#000"/>
<rect x="715" y="224" width="2" height="1" fill="#000"/>
<rect x="715" y="256" width="2" height="1" fill="#000"/>
<rect x="715" y="288" width="2" height="1" fill="#000"/>
<rect x="715" y="320" width="2" height="1" fill="#000"/>
<rect x="715" y="352" width="2" height="1" fill="#000"/>
<rect x="715" y="358" width="1" height="1" fill="#000"/>
<rect x="715" y="531" width="1" height="1" fill="#000"/>
<rect x="3" y="532" width="1" height="3" fill="#000"/>
<rect x="67" y="532" width="1" height="3" fill="#000"/>
<rect x="131" y="532" width="1" height="3" fill="#000"/>
<rect x="195" y="532" width="1" height="3" fill="#000"/>
<rect x="259" y="532" width="1" height="3" fill="#000"/>
<rect x="323" y="532" width="1" height="3" fill="#000"/>
<rect x="387" y="532" width="1" height="3" fill="#000"/>
<rect x="451" y="532" width="1" height="3" fill="#000"/>
<rect x="515" y="532" width="1" height="3" fill="#000"/>
<rect x="3" y="5" width="197" height="11" fill="#fff"/>
<g filter="url(#th)">
<g transform="translate(7.00,14) skewX(0.2)"><text x="0" y="0" font-family="'Liberation Sans', Arial, sans-serif" font-size="10" font-weight="400" textLength="43.98" lengthAdjust="spacingAndGlyphs" fill="#000">GOLD.,H4</text></g>
<g transform="translate(57.00,14) skewX(0.2)"><text x="0" y="0" font-family="'Liberation Sans', Arial, sans-serif" font-size="10" font-weight="400" textLength="31.82" lengthAdjust="spacingAndGlyphs" fill="#000">1721.30</text></g>
<g transform="translate(92.80,14) skewX(0.2)"><text x="0" y="0" font-family="'Liberation Sans', Arial, sans-serif" font-size="10" font-weight="400" textLength="32.45" lengthAdjust="spacingAndGlyphs" fill="#000">1726.00</text></g>
<g transform="translate(128.50,14) skewX(0.2)"><text x="0" y="0" font-family="'Liberation Sans', Arial, sans-serif" font-size="10" font-weight="400" textLength="33.08" lengthAdjust="spacingAndGlyphs" fill="#000">1710.90</text></g>
<g transform="translate(164.40,14) skewX(0.2)"><text x="0" y="0" font-family="'Liberation Sans', Arial, sans-serif" font-size="10" font-weight="400" textLength="34.09" lengthAdjust="spacingAndGlyphs" fill="#000">1723.50</text></g>
<g transform="translate(6.00,370) skewX(0.2)"><text x="0" y="0" font-family="'Liberation Sans', Arial, sans-serif" font-size="10" font-weight="400" textLength="114.03" lengthAdjust="spacingAndGlyphs" fill="#000">Sto(5,3,3) 20.4154 15.5741</text></g>
<g transform="translate(5.00,526) skewX(0.2)"><text x="0" y="0" font-family="'Liberation Sans', Arial, sans-serif" font-size="10" font-weight="400" textLength="255.99" lengthAdjust="spacingAndGlyphs" fill="#000">ICMB Platform, © 2001-2011 MetaQuotes Software Corp.</text></g>
<g transform="translate(2.00,544) skewX(0.2)"><text x="0" y="0" font-family="'Liberation Sans', Arial, sans-serif" font-size="10" font-weight="400" textLength="50.56" lengthAdjust="spacingAndGlyphs" fill="#000">17 Oct 2011</text></g>
<g transform="translate(66.00,544) skewX(0.2)"><text x="0" y="0" font-family="'Liberation Sans', Arial, sans-serif" font-size="10" font-weight="400" textLength="53.44" lengthAdjust="spacingAndGlyphs" fill="#000">20 Oct 12:00</text></g>
<g transform="translate(129.80,544) skewX(0.2)"><text x="0" y="0" font-family="'Liberation Sans', Arial, sans-serif" font-size="10" font-weight="400" textLength="53.22" lengthAdjust="spacingAndGlyphs" fill="#000">25 Oct 04:00</text></g>
<g transform="translate(194.00,544) skewX(0.2)"><text x="0" y="0" font-family="'Liberation Sans', Arial, sans-serif" font-size="10" font-weight="400" textLength="53.02" lengthAdjust="spacingAndGlyphs" fill="#000">27 Oct 20:00</text></g>
<g transform="translate(257.90,544) skewX(0.2)"><text x="0" y="0" font-family="'Liberation Sans', Arial, sans-serif" font-size="10" font-weight="400" textLength="51.61" lengthAdjust="spacingAndGlyphs" fill="#000">1 Nov 12:00</text></g>
<g transform="translate(322.30,544) skewX(0.2)"><text x="0" y="0" font-family="'Liberation Sans', Arial, sans-serif" font-size="10" font-weight="400" textLength="51.21" lengthAdjust="spacingAndGlyphs" fill="#000">4 Nov 04:00</text></g>
<g transform="translate(386.00,544) skewX(0.2)"><text x="0" y="0" font-family="'Liberation Sans', Arial, sans-serif" font-size="10" font-weight="400" textLength="51.00" lengthAdjust="spacingAndGlyphs" fill="#000">8 Nov 20:00</text></g>
<g transform="translate(449.20,544) skewX(0.2)"><text x="0" y="0" font-family="'Liberation Sans', Arial, sans-serif" font-size="10" font-weight="400" textLength="57.22" lengthAdjust="spacingAndGlyphs" fill="#000">11 Nov 12:00</text></g>
<g transform="translate(513.60,544) skewX(0.2)"><text x="0" y="0" font-family="'Liberation Sans', Arial, sans-serif" font-size="10" font-weight="400" textLength="57.22" lengthAdjust="spacingAndGlyphs" fill="#000">16 Nov 00:00</text></g>
<g transform="translate(720.00,35) skewX(0.2)"><text x="0" y="0" font-family="'Liberation Sans', Arial, sans-serif" font-size="10" font-weight="400" textLength="32.03" lengthAdjust="spacingAndGlyphs" fill="#000">1794.90</text></g>
<g transform="translate(720.00,67) skewX(0.2)"><text x="0" y="0" font-family="'Liberation Sans', Arial, sans-serif" font-size="10" font-weight="400" textLength="32.03" lengthAdjust="spacingAndGlyphs" fill="#000">1775.70</text></g>
<g transform="translate(720.00,99) skewX(0.2)"><text x="0" y="0" font-family="'Liberation Sans', Arial, sans-serif" font-size="10" font-weight="400" textLength="32.03" lengthAdjust="spacingAndGlyphs" fill="#000">1755.90</text></g>
<g transform="translate(720.00,131) skewX(0.2)"><text x="0" y="0" font-family="'Liberation Sans', Arial, sans-serif" font-size="10" font-weight="400" textLength="32.03" lengthAdjust="spacingAndGlyphs" fill="#000">1736.70</text></g>
<g transform="translate(720.00,163) skewX(0.2)"><text x="0" y="0" font-family="'Liberation Sans', Arial, sans-serif" font-size="10" font-weight="400" textLength="32.03" lengthAdjust="spacingAndGlyphs" fill="#000">1716.90</text></g>
<g transform="translate(720.00,195) skewX(0.2)"><text x="0" y="0" font-family="'Liberation Sans', Arial, sans-serif" font-size="10" font-weight="400" textLength="32.03" lengthAdjust="spacingAndGlyphs" fill="#000">1697.10</text></g>
<g transform="translate(720.00,227) skewX(0.2)"><text x="0" y="0" font-family="'Liberation Sans', Arial, sans-serif" font-size="10" font-weight="400" textLength="32.03" lengthAdjust="spacingAndGlyphs" fill="#000">1677.90</text></g>
<g transform="translate(720.00,259) skewX(0.2)"><text x="0" y="0" font-family="'Liberation Sans', Arial, sans-serif" font-size="10" font-weight="400" textLength="32.03" lengthAdjust="spacingAndGlyphs" fill="#000">1658.10</text></g>
<g transform="translate(720.00,291) skewX(0.2)"><text x="0" y="0" font-family="'Liberation Sans', Arial, sans-serif" font-size="10" font-weight="400" textLength="32.03" lengthAdjust="spacingAndGlyphs" fill="#000">1638.90</text></g>
<g transform="translate(720.00,323) skewX(0.2)"><text x="0" y="0" font-family="'Liberation Sans', Arial, sans-serif" font-size="10" font-weight="400" textLength="32.03" lengthAdjust="spacingAndGlyphs" fill="#000">1619.10</text></g>
<g transform="translate(720.00,355) skewX(0.2)"><text x="0" y="0" font-family="'Liberation Sans', Arial, sans-serif" font-size="10" font-weight="400" textLength="32.03" lengthAdjust="spacingAndGlyphs" fill="#000">1599.90</text></g>
<g transform="translate(718.00,367) skewX(0.2)"><text x="0" y="0" font-family="'Liberation Sans', Arial, sans-serif" font-size="10" font-weight="400" textLength="14.30" lengthAdjust="spacingAndGlyphs" fill="#000">100</text></g>
<g transform="translate(718.00,528) skewX(0.2)"><text x="0" y="0" font-family="'Liberation Sans', Arial, sans-serif" font-size="10" font-weight="400" textLength="4.00" lengthAdjust="spacingAndGlyphs" fill="#000">0</text></g>
</g>
<rect x="717" y="33" width="35" height="11" fill="#ff0000"/>
<rect x="717" y="79" width="35" height="11" fill="#ff0000"/>
<rect x="717" y="99" width="35" height="11" fill="#ff0000"/>
<rect x="717" y="173" width="35" height="11" fill="#ff0000"/>
<rect x="717" y="199" width="35" height="11" fill="#ff0000"/>
<rect x="717" y="227" width="35" height="11" fill="#ff0000"/>
<rect x="717" y="241" width="35" height="11" fill="#ff0000"/>
<rect x="717" y="262" width="35" height="11" fill="#ff0000"/>
<rect x="717" y="344" width="35" height="10" fill="#ff0000"/>
<rect x="717" y="143" width="35" height="11" fill="#000"/>
<g filter="url(#th)">
<g transform="translate(720.00,42) skewX(0.2)"><text x="0" y="0" font-family="'Liberation Sans', Arial, sans-serif" font-size="10" font-weight="400" textLength="32.03" lengthAdjust="spacingAndGlyphs" fill="#fff">1790.79</text></g>
<g transform="translate(720.00,88) skewX(0.2)"><text x="0" y="0" font-family="'Liberation Sans', Arial, sans-serif" font-size="10" font-weight="400" textLength="32.03" lengthAdjust="spacingAndGlyphs" fill="#fff">1762.71</text></g>
<g transform="translate(720.00,108) skewX(0.2)"><text x="0" y="0" font-family="'Liberation Sans', Arial, sans-serif" font-size="10" font-weight="400" textLength="32.03" lengthAdjust="spacingAndGlyphs" fill="#fff">1750.27</text></g>
<g transform="translate(720.00,182) skewX(0.2)"><text x="0" y="0" font-family="'Liberation Sans', Arial, sans-serif" font-size="10" font-weight="400" textLength="32.03" lengthAdjust="spacingAndGlyphs" fill="#fff">1705.20</text></g>
<g transform="translate(720.00,208) skewX(0.2)"><text x="0" y="0" font-family="'Liberation Sans', Arial, sans-serif" font-size="10" font-weight="400" textLength="32.03" lengthAdjust="spacingAndGlyphs" fill="#fff">1689.40</text></g>
<g transform="translate(720.00,236) skewX(0.2)"><text x="0" y="0" font-family="'Liberation Sans', Arial, sans-serif" font-size="10" font-weight="400" textLength="32.03" lengthAdjust="spacingAndGlyphs" fill="#fff">1672.23</text></g>
<g transform="translate(720.00,250) skewX(0.2)"><text x="0" y="0" font-family="'Liberation Sans', Arial, sans-serif" font-size="10" font-weight="400" textLength="32.03" lengthAdjust="spacingAndGlyphs" fill="#fff">1663.85</text></g>
<g transform="translate(720.00,271) skewX(0.2)"><text x="0" y="0" font-family="'Liberation Sans', Arial, sans-serif" font-size="10" font-weight="400" textLength="32.03" lengthAdjust="spacingAndGlyphs" fill="#fff">1650.97</text></g>
<g transform="translate(720.00,353) skewX(0.2)"><text x="0" y="0" font-family="'Liberation Sans', Arial, sans-serif" font-size="10" font-weight="400" textLength="32.03" lengthAdjust="spacingAndGlyphs" fill="#fff">1600.53</text></g>
<g transform="translate(720.00,152) skewX(0.2)"><text x="0" y="0" font-family="'Liberation Sans', Arial, sans-serif" font-size="10" font-weight="400" textLength="32.03" lengthAdjust="spacingAndGlyphs" fill="#fff">1723.50</text></g>
</g>
<g style="mix-blend-mode:multiply"><g transform="translate(433.70,290)"><text x="0" y="0" font-family="'DejaVu Sans', sans-serif" font-size="16" font-weight="400" textLength="189.63" lengthAdjust="spacingAndGlyphs" fill="#b0a2a2">Портал для трейдеров</text></g><g transform="translate(630.40,290)"><text x="0" y="0" font-family="'DejaVu Sans', sans-serif" font-size="16" font-weight="400" textLength="114.44" lengthAdjust="spacingAndGlyphs" fill="#b0a2a2">- ForTrader.ru</text></g></g></svg>
</body></html>
